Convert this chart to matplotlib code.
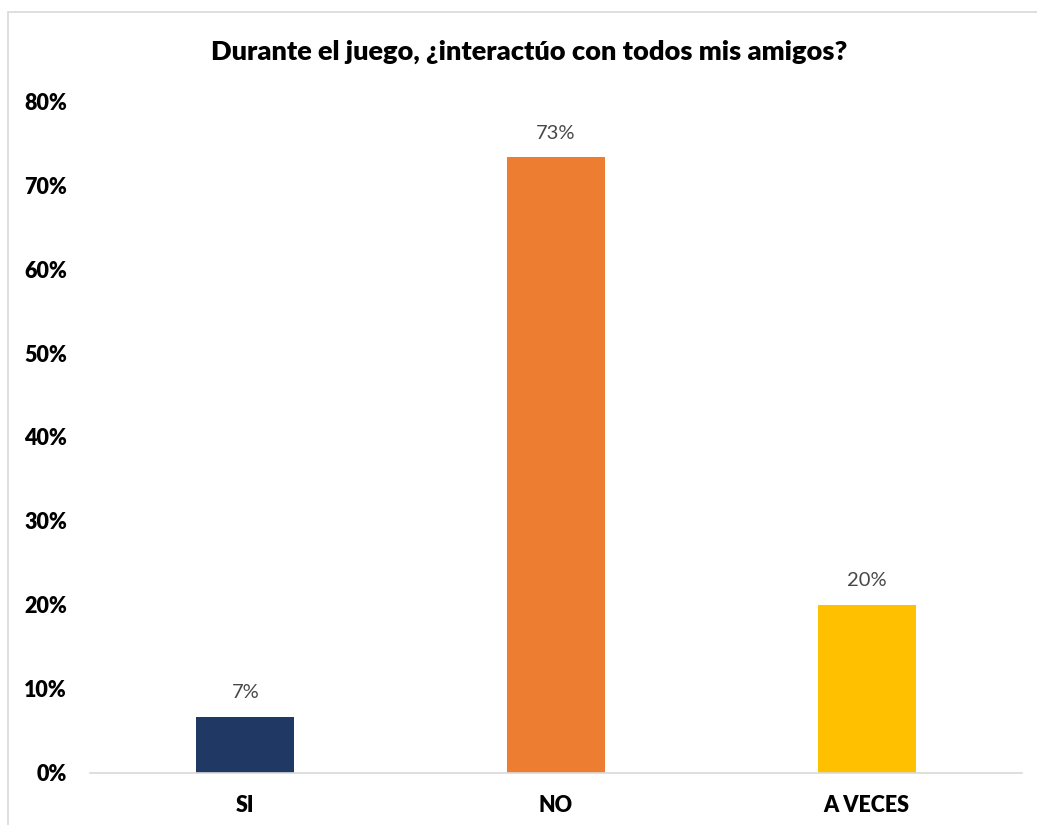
import matplotlib.pyplot as plt
from matplotlib.patches import Rectangle
from matplotlib.ticker import PercentFormatter

plt.rcParams['font.family'] = ['Lato', 'DejaVu Sans']

categories = ['SI', 'NO', 'A VECES']
values = [1 / 15, 11 / 15, 3 / 15]
labels = ['7%', '73%', '20%']
colors = ['#203864', '#ED7D31', '#FFC000']
yticks = [0, 0.1, 0.2, 0.3, 0.4, 0.5, 0.6, 0.7, 0.8]

fig = plt.figure(figsize=(10.37, 8.25), dpi=100)
ax = fig.add_axes([0.0868, 0.0636, 0.8987, 0.8136])

x = range(len(categories))
bars = ax.bar(x, values, width=0.315, color=colors, zorder=2)

for b, lab in zip(bars, labels):
    ax.annotate(lab, (b.get_x() + b.get_width() / 2, b.get_height()),
                xytext=(0, 11), textcoords='offset points',
                ha='center', va='bottom', fontsize=14.5, color='#474747')

ax.set_xlim(-0.5, 2.5)
ax.set_ylim(0, 0.8)
ax.set_yticks(yticks)
ax.yaxis.set_major_formatter(PercentFormatter(1.0, decimals=0))
ax.set_xticks(list(x))
ax.set_xticklabels(categories)

for s in ['top', 'right', 'left']:
    ax.spines[s].set_visible(False)
ax.spines['bottom'].set_color('#D9D9D9')
ax.spines['bottom'].set_linewidth(1.2)

ax.tick_params(axis='both', length=0, labelsize=15.5, colors='black')
ax.tick_params(axis='y', pad=16.5)
ax.tick_params(axis='x', pad=16)
for t in ax.get_xticklabels() + ax.get_yticklabels():
    t.set_fontweight('heavy')

fig.text(0.510, 0.937, 'Durante el juego, ¿interactúo con todos mis amigos?',
         ha='center', va='center', fontsize=19.5, fontweight='heavy')

# chart frame (cut off at the right and bottom edges)
fig.patches.append(Rectangle((8 / 1037, -0.05), 1.1, 0.05 + (825 - 12) / 825,
                             transform=fig.transFigure, fill=False,
                             edgecolor='#D9D9D9', linewidth=1.2))

fig.savefig('out.png', dpi=100)
